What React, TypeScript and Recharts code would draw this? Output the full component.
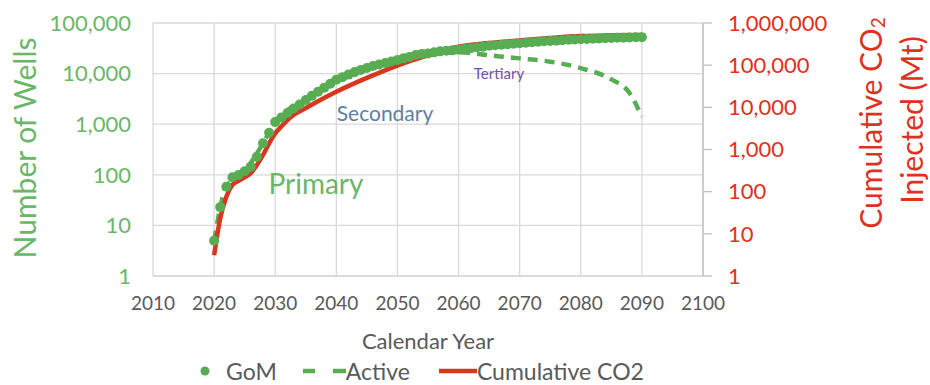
import React from "react";
import {
  CartesianGrid,
  ComposedChart,
  Legend,
  Line,
  Scatter,
  XAxis,
  YAxis,
} from "recharts";

const FONT = "Lato, 'Open Sans', sans-serif";
const GREEN = "#58ac52";
const GREEN_TEXT = "#6bb669";
const RED = "#d7361f";
const RED_TEXT = "#df311f";
const GREY_TEXT = "#595959";
const GRID = "#d9d9d9";

// calendar year ticks and log ticks
const yearTicks = [2010, 2020, 2030, 2040, 2050, 2060, 2070, 2080, 2090, 2100];
const wellTicks = [1, 10, 100, 1000, 10000, 100000];
const co2Ticks = [1, 10, 100, 1000, 10000, 100000, 1000000];

// GoM number of wells, one dot per year
const gomYears = [
  2020, 2021, 2022, 2023, 2024, 2025, 2026, 2027, 2028, 2029,
  2030, 2031, 2032, 2033, 2034, 2035, 2036, 2037, 2038, 2039,
  2040, 2041, 2042, 2043, 2044, 2045, 2046, 2047, 2048, 2049,
  2050, 2051, 2052, 2053, 2054, 2055, 2056, 2057, 2058, 2059,
  2060, 2061, 2062, 2063, 2064, 2065, 2066, 2067, 2068, 2069,
  2070, 2071, 2072, 2073, 2074, 2075, 2076, 2077, 2078, 2079,
  2080, 2081, 2082, 2083, 2084, 2085, 2086, 2087, 2088, 2089, 2090,
];
const gomWells = [
  5, 23, 58, 89, 99, 118, 145, 228, 420, 680,
  1100, 1350, 1660, 2040, 2450, 3020, 3630, 4370, 5250, 6310,
  7590, 8510, 9550, 10700, 11750, 12900, 14100, 15100, 16200, 17400,
  18600, 20000, 21400, 23400, 24500, 25100, 26300, 27500, 28200, 28800,
  29500, 30900, 31600, 33100, 33900, 35500, 36300, 37200, 38000, 38900,
  39800, 40700, 41700, 42700, 43700, 44200, 44700, 45700, 46800, 47300,
  47900, 48400, 49000, 49500, 50100, 50700, 51300, 51300, 51900, 52500, 52500,
];

// active wells
const activeYears = [2020, 2022, 2025, 2028, 2030, 2035, 2040, 2045, 2050, 2055, 2060, 2065, 2070, 2075, 2080, 2085, 2088, 2090];
const activeWells = [5, 58, 118, 420, 1100, 3000, 7500, 12800, 18500, 24000, 26500, 23000, 20000, 17200, 12800, 7700, 4100, 1400];

// cumulative CO2 injected (Mt), right axis
const co2Years = [
  2020, 2021, 2022, 2023, 2024, 2025, 2026, 2027, 2028, 2029, 2030, 2031, 2032, 2033,
  2035, 2037, 2040, 2045, 2050, 2055, 2060, 2065, 2070, 2075, 2080, 2085, 2090,
];
const co2Mt = [
  3.1, 23, 76, 144, 181, 220, 275, 430, 740, 1400, 2400, 3500, 5000, 6600,
  9600, 14000, 23500, 50000, 98000, 170000, 275000, 335000, 385000, 440000, 490000, 510000, 520000,
];

const gomData = gomYears.map((year, i) => ({ year, wells: gomWells[i] }));
const activeData = activeYears.map((year, i) => ({ year, active: activeWells[i] }));
const co2Data = co2Years.map((year, i) => ({ year, co2: co2Mt[i] }));

const fmt = (v: number) => v.toLocaleString("en-US");

const Dot = (props: any) => <circle cx={props.cx} cy={props.cy} r={5} fill={GREEN} />;

function LegendBox() {
  return (
    <div
      style={{
        display: "flex",
        justifyContent: "center",
        alignItems: "center",
        height: 24,
        lineHeight: "24px",
        paddingRight: 86,
        fontFamily: FONT,
        fontSize: 23,
        color: GREY_TEXT,
      }}
    >
      <svg width={10} height={10} style={{ marginRight: 16 }}>
        <circle cx={5} cy={5} r={4.5} fill={GREEN} />
      </svg>
      <span style={{ marginRight: 25 }}>GoM</span>
      <svg width={44} height={8}>
        <line x1={1} y1={4} x2={13} y2={4} stroke={GREEN} strokeWidth={4.5} />
        <line x1={31} y1={4} x2={44} y2={4} stroke={GREEN} strokeWidth={4.5} />
      </svg>
      <span style={{ marginRight: 29 }}>Active</span>
      <svg width={38} height={8}>
        <line x1={0} y1={4} x2={38} y2={4} stroke={RED} strokeWidth={4.5} />
      </svg>
      <span>Cumulative CO2</span>
    </div>
  );
}

export default function App() {
  return (
    <div style={{ position: "absolute", left: 0, top: 0, width: 930, height: 385, background: "#fff" }}>
      <ComposedChart width={930} height={385} margin={{ top: 23, right: 0, left: 0, bottom: 2 }}>
        <CartesianGrid yAxisId="left" stroke={GRID} strokeWidth={1.3} />
        <XAxis
          dataKey="year"
          type="number"
          domain={[2010, 2100]}
          ticks={yearTicks}
          height={83}
          axisLine={{ stroke: GRID, strokeWidth: 1.3 }}
          tickLine={false}
          tickSize={0}
          tickMargin={21}
          tick={{ fill: GREY_TEXT, fontSize: 19, fontFamily: FONT }}
          label={{
            content: () => (
              <text x={428} y={340} textAnchor="middle" dominantBaseline="central" fill={GREY_TEXT} fontSize={22} fontFamily={FONT}>
                Calendar Year
              </text>
            ),
          }}
        />
        <YAxis
          yAxisId="left"
          scale="log"
          domain={[1, 100000]}
          ticks={wellTicks}
          allowDataOverflow
          width={153}
          axisLine={false}
          tickLine={false}
          tickSize={0}
          tickMargin={22}
          tickFormatter={fmt}
          tick={{ fill: GREEN_TEXT, fontSize: 22, fontFamily: FONT }}
          label={{
            content: () => (
              <text
                x={24}
                y={148}
                transform="rotate(-90 24 148)"
                textAnchor="middle"
                dominantBaseline="central"
                fill={GREEN_TEXT}
                fontSize={30}
                fontFamily={FONT}
              >
                Number of Wells
              </text>
            ),
          }}
        />
        <YAxis
          yAxisId="right"
          orientation="right"
          scale="log"
          domain={[1, 1000000]}
          ticks={co2Ticks}
          allowDataOverflow
          width={227}
          axisLine={{ stroke: "#bfbfbf", strokeWidth: 1.3 }}
          tickLine={{ stroke: "#bfbfbf", strokeWidth: 1.3 }}
          tickSize={9}
          tickMargin={16}
          tickFormatter={fmt}
          tick={{ fill: RED_TEXT, fontSize: 22, fontFamily: FONT }}
          label={{
            content: () => (
              <g fill={RED_TEXT} fontSize={30} fontFamily={FONT}>
                <text x={870} y={123} transform="rotate(-90 870 123)" textAnchor="middle" dominantBaseline="central">
                  Cumulative CO
                  <tspan fontSize={19} dy={7}>2</tspan>
                </text>
                <text x={911} y={120} transform="rotate(-90 911 120)" textAnchor="middle" dominantBaseline="central">
                  Injected (Mt)
                </text>
              </g>
            ),
          }}
        />
        <Line
          yAxisId="left"
          data={activeData}
          dataKey="active"
          type="monotone"
          stroke={GREEN}
          strokeWidth={4.5}
          strokeDasharray="10 7"
          dot={false}
          isAnimationActive={false}
        />
        <Scatter yAxisId="left" data={gomData} dataKey="wells" shape={Dot} isAnimationActive={false} />
        <Line
          yAxisId="right"
          data={co2Data}
          dataKey="co2"
          type="monotone"
          stroke={RED}
          strokeWidth={4.5}
          dot={false}
          isAnimationActive={false}
        />
        <text x={316} y={183} textAnchor="middle" dominantBaseline="central" fill={GREEN_TEXT} fontSize={28} fontFamily={FONT}>
          Primary
        </text>
        <text x={385} y={112} textAnchor="middle" dominantBaseline="central" fill="#5b7fa3" fontSize={21} fontFamily={FONT}>
          Secondary
        </text>
        <text x={499} y={73} textAnchor="middle" dominantBaseline="central" fill="#7650a6" fontSize={15} fontFamily={FONT}>
          Tertiary
        </text>
        <Legend verticalAlign="bottom" wrapperStyle={{ left: 0, width: 930 }} content={() => <LegendBox />} />
      </ComposedChart>
    </div>
  );
}
